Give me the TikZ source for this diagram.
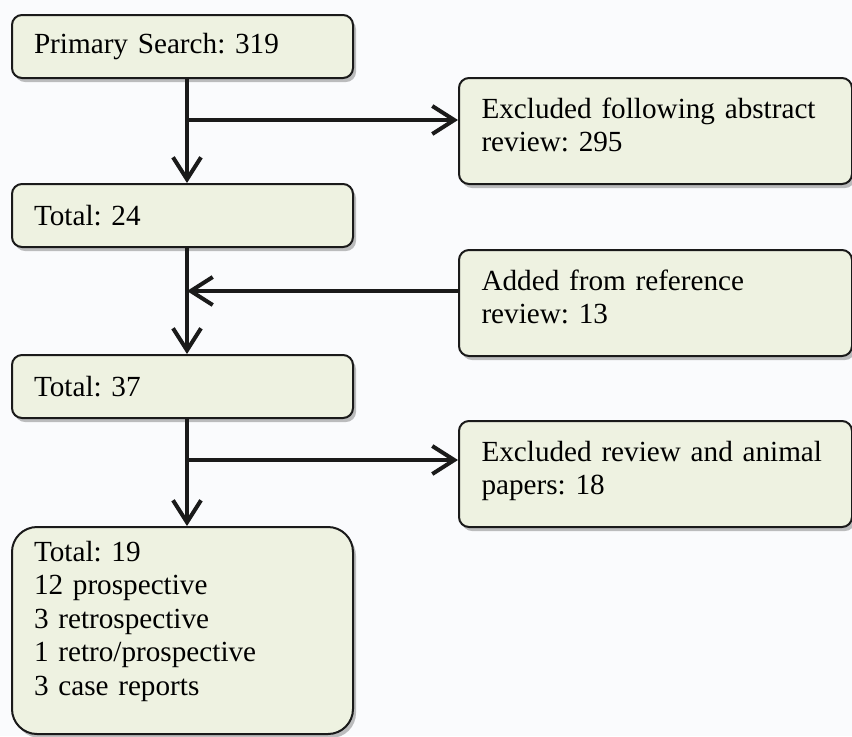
\documentclass[tikz,border=0pt]{standalone}
\usepackage{fontspec}
\setmainfont{Liberation Serif}
\usepackage{xcolor}
\usetikzlibrary{arrows.meta,positioning,shadows}
\definecolor{paperbg}{HTML}{FAFBFD}
\definecolor{ink}{HTML}{1A1A1A}
\definecolor{boxfill}{HTML}{EEF2E1}
\frenchspacing
\tikzset{
  flowfont/.style={font=\fontsize{14.6}{16.8}\selectfont},
  basebox/.style={draw=ink,fill=boxfill,line width=1pt,rounded corners=5pt,
                  anchor=north west,align=left,flowfont,
                  execute at begin node={\hyphenpenalty=10000},
                  drop shadow={shadow xshift=1.5pt,shadow yshift=-2pt,
                               opacity=0.25,fill=black}},
  leftbox/.style={basebox,text width=148.5pt,inner xsep=11pt,
                  minimum height=31.5pt},
  sidebox/.style={basebox,text width=174pt,inner xsep=11.25pt,inner ysep=0pt,
                  text height=20pt,text depth=33pt},
  finalbox/.style={basebox,rounded corners=12.5pt,text width=148.5pt,
                   inner xsep=11pt,inner ysep=0pt,
                   text height=17pt,text depth=86.5pt},
  flowarr/.style={-{Straight Barb[length=11pt,width=14pt]},line width=2pt,
                  draw=ink}
}
\begin{document}
\begin{tikzpicture}[x=0.5pt,y=-0.5pt]
    \fill[paperbg] (0,0) rectangle (852,736);
    \path[use as bounding box] (0,0) rectangle (852,736);

    % main column
    \node[leftbox] (ps) at (11,14) {Primary Search: 319};
    \node[leftbox] (t24) at (11,183) {Total: 24};
    \node[leftbox] (t37) at (11,354) {Total: 37};
    \node[finalbox] (t19) at (11,526)
      {Total: 19\\12 prospective\\3 retrospective\\1 retro/prospective\\3 case reports};

    % side boxes
    \node[sidebox] (exc1) at (458,77) {Excluded following abstract\\review: 295};
    \node[sidebox] (add) at (458,249) {Added from reference\\review: 13};
    \node[sidebox] (exc2) at (458,420) {Excluded review and animal\\papers: 18};

    \coordinate (j1) at (187,120);
    \coordinate (j2) at (187,291);
    \coordinate (j3) at (187,460);

    \draw[flowarr] (ps.south -| j1) -- (t24.north -| j1);
    \draw[flowarr] (t24.south -| j1) -- (t37.north -| j1);
    \draw[flowarr] (t37.south -| j1) -- (t19.north -| j1);
    \draw[flowarr] (j1) -- (j1 -| exc1.west);
    \draw[flowarr] (add.west |- j2) -- (j2);
    \draw[flowarr] (j3) -- (j3 -| exc2.west);
  \end{tikzpicture}
\end{document}
